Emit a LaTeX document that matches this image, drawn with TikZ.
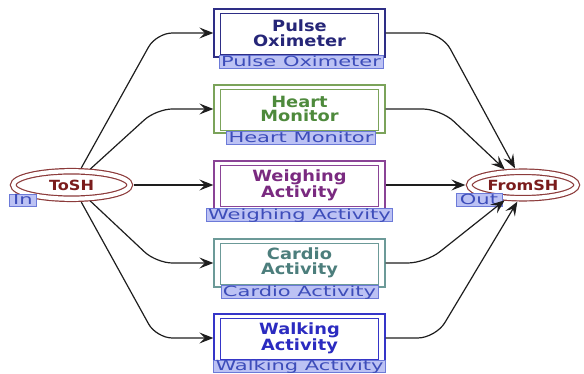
\documentclass[tikz,border=0pt]{standalone}
\usepackage{fontspec}
\setmainfont{DejaVu Sans}[FakeStretch=1.15]
\newfontfamily\tagfont{DejaVu Sans}[FakeStretch=1.5]
\usetikzlibrary{arrows.meta,shapes.geometric,calc}

\definecolor{placeLine}{HTML}{8C3B3B}
\definecolor{placeText}{HTML}{7A1C1C}
\definecolor{pulseC}{HTML}{2E2E86}
\definecolor{pulseT}{HTML}{262678}
\definecolor{heartC}{HTML}{7BA35A}
\definecolor{heartT}{HTML}{4E8A3C}
\definecolor{weighC}{HTML}{8A4496}
\definecolor{weighT}{HTML}{7A2A80}
\definecolor{cardioC}{HTML}{6C9A98}
\definecolor{cardioT}{HTML}{4C7E7C}
\definecolor{walkC}{HTML}{3535C8}
\definecolor{walkT}{HTML}{2B2BC0}
\definecolor{lblFill}{HTML}{BCC2F4}
\definecolor{lblDraw}{HTML}{6C7AD8}
\definecolor{lblText}{HTML}{3D4DBA}
\definecolor{arcC}{HTML}{1E1E1E}

\begin{document}
\begin{tikzpicture}[x=1pt,y=-1pt,
  place/.style={ellipse, draw=placeLine, line width=1.2pt, double=white,
    double distance=4.2pt, inner sep=0pt, text=placeText,
    font=\fontsize{14}{14}\selectfont\bfseries},
  trans/.style={rectangle, draw=#1, line width=1.3pt, fill=white,
    minimum width=171pt, minimum height=48pt, inner sep=0pt, align=center,
    font=\fontsize{15.5}{14.5}\selectfont\bfseries},
  inner frame/.style={draw=#1, line width=1.3pt},
  lbl/.style={rectangle, draw=lblDraw, fill=lblFill, text=lblText,
    line width=0.9pt, inner xsep=2pt, inner ysep=0pt, text height=10.5pt,
    text depth=2pt, font=\tagfont\fontsize{14}{14}\selectfont},
  portlbl/.style={lbl, inner xsep=4pt},
  arc/.style={draw=arcC, line width=1.2pt, rounded corners=16pt,
    -{Stealth[length=14pt,width=11pt,inset=5.5pt]}},
  arcout/.style={arc, shorten <=3.3pt},
  arcin/.style={arc, rounded corners=18pt, shorten >=3.3pt}]

\useasboundingbox (0,0) rectangle (584,374);

% places
\node[place, minimum width=116.5pt, minimum height=27.5pt] (tosh) at (71.5,185) {ToSH};
\node[place, minimum width=107.5pt, minimum height=26.5pt] (fromsh) at (523,185) {FromSH};

% transitions
\node[trans=pulseC, text=pulseT]   (pulse)  at (299.5,33)  {Pulse\\Oximeter};
\node[trans=heartC, text=heartT]   (heart)  at (299.5,109) {Heart\\Monitor};
\node[trans=weighC, text=weighT]   (weigh)  at (299.5,185) {Weighing\\Activity};
\node[trans=cardioC, text=cardioT] (cardio) at (299.5,263) {Cardio\\Activity};
\node[trans=walkC, text=walkT]     (walk)   at (299.5,338) {Walking\\Activity};

% inner frames of the substitution transitions
\foreach \n/\c in {pulse/pulseC, heart/heartC, weigh/weighC, cardio/cardioC, walk/walkC}
  \draw[inner frame=\c] ($(\n.north west)+(7,5)$) rectangle ($(\n.south east)+(-7,-3)$);

% subpage tags
\node[lbl] (pulseL)  at ($(pulse.south)+(1.5,4.5)$)  {Pulse Oximeter};
\node[lbl] (heartL)  at ($(heart.south)+(1.5,4.5)$)  {Heart Monitor};
\node[lbl] (weighL)  at ($(weigh.south)+(0,5.5)$)    {Weighing Activity};
\node[lbl] (cardioL) at ($(cardio.south)+(0,4.5)$)   {Cardio Activity};
\node[lbl] (walkL)   at ($(walk.south)+(0,4)$)       {Walking Activity};

% port tags
\node[portlbl] (inL)  at ($(tosh.center)+(-48.5,15.5)$)  {In};
\node[portlbl] (outL) at ($(fromsh.center)+(-44,15)$)    {Out};

% arcs from ToSH
\draw[arcout] (tosh.60)  -- ($(pulse.west)+(-57,0)$)  -- (pulse.west);
\draw[arcout] (tosh.40)  -- ($(heart.west)+(-57,0)$)  -- (heart.west);
\draw[arcout] (tosh.east) -- (weigh.west);
\draw[arcout] (tosh.-40) -- ($(cardio.west)+(-57,0)$) -- (cardio.west);
\draw[arcout] (tosh.-60) -- ($(walk.west)+(-57,0)$)   -- (walk.west);

% arcs into FromSH
\draw[arcin] (pulse.east)  -- ($(pulse.east)+(56,0)$)  -- (fromsh.115);
\draw[arcin] (heart.east)  -- ($(heart.east)+(55,0)$)  -- (fromsh.140);
\draw[arcin] (weigh.east)  -- (fromsh.west);
\draw[arcin] (cardio.east) -- ($(cardio.east)+(40,0)$) -- (fromsh.220);
\draw[arcin] (walk.east)   -- ($(walk.east)+(50,0)$)   -- (fromsh.254);

\end{tikzpicture}
\end{document}
